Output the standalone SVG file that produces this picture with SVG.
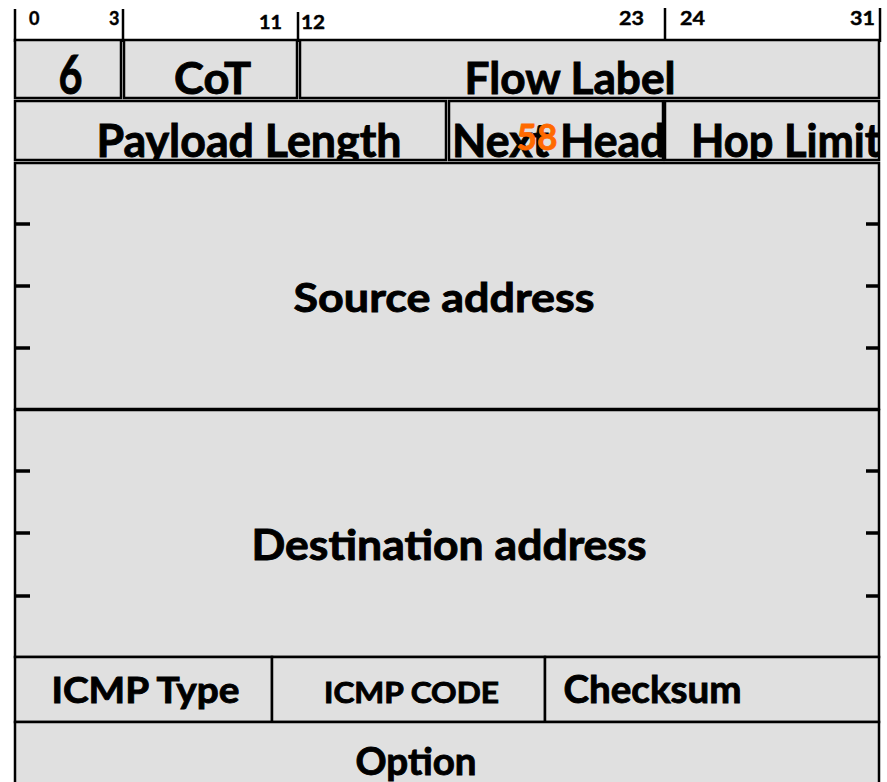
<svg xmlns="http://www.w3.org/2000/svg" width="887" height="782" viewBox="0 0 887 782">
<style>
.box{fill:#e0e0e0;stroke:#000;stroke-width:2.5}
.t{font-family:Lato,"Liberation Sans","DejaVu Sans",sans-serif;font-weight:700;fill:#000;stroke:#000;stroke-width:0.9}
.n{font-family:Lato,"Liberation Sans","DejaVu Sans",sans-serif;font-weight:700;font-size:18px;fill:#000;stroke:#000;stroke-width:0.4}
.o{font-family:Lato,"Liberation Sans","DejaVu Sans",sans-serif;font-weight:700;fill:#ff6a00;stroke:#ff6a00;stroke-width:0.8}
.tick{stroke:#000;stroke-width:2.5}
.mk{stroke:#000;stroke-width:3.5}
</style>
<defs>
<clipPath id="cNH"><rect x="449" y="101" width="214" height="59"/></clipPath>
<clipPath id="cHL"><rect x="665" y="101" width="213" height="59"/></clipPath>
<clipPath id="cPL"><rect x="15" y="101" width="431" height="59"/></clipPath>
</defs>
<rect width="887" height="782" fill="#fff"/>
<g id="bit-scale">
<line class="tick" x1="15" y1="9" x2="15" y2="42"/>
<line class="tick" x1="123" y1="9" x2="123" y2="42"/>
<line class="tick" x1="298" y1="12" x2="298" y2="42"/>
<line class="tick" x1="665" y1="8" x2="665" y2="44"/>
<line class="tick" x1="880" y1="8" x2="880" y2="42"/>
<text class="n" x="29" y="25">0</text>
<text class="n" x="109" y="25">3</text>
<text class="n" x="259" y="29" textLength="23" lengthAdjust="spacingAndGlyphs">11</text>
<text class="n" x="301" y="29" textLength="24" lengthAdjust="spacingAndGlyphs">12</text>
<text class="n" x="619" y="25" textLength="25" lengthAdjust="spacingAndGlyphs">23</text>
<text class="n" x="680" y="25" textLength="25" lengthAdjust="spacingAndGlyphs">24</text>
<text class="n" x="850" y="25" textLength="25" lengthAdjust="spacingAndGlyphs">31</text>
</g>
<g id="version">
<rect class="box" x="15" y="40" width="106" height="58"/>
<text class="t" x="70.5" y="94" font-size="54" text-anchor="middle" textLength="24" lengthAdjust="spacingAndGlyphs">6</text>
</g>
<g id="cot">
<rect class="box" x="124" y="40" width="173" height="58"/>
<text class="t" x="212.5" y="94" font-size="43" text-anchor="middle" textLength="77" lengthAdjust="spacingAndGlyphs">CoT</text>
</g>
<g id="flow-label">
<rect class="box" x="300" y="40" width="579" height="58"/>
<text class="t" x="570" y="94" font-size="43" text-anchor="middle" textLength="211" lengthAdjust="spacingAndGlyphs">Flow Label</text>
</g>
<g id="payload-length">
<rect class="box" x="15" y="101" width="431" height="59"/>
<text class="t" x="96.5" y="157" font-size="45" textLength="305" lengthAdjust="spacingAndGlyphs" clip-path="url(#cPL)">Payload Length</text>
</g>
<g id="next-header">
<rect class="box" x="449" y="101" width="214" height="59"/>
<text class="t" x="452" y="157" font-size="45" textLength="254" lengthAdjust="spacingAndGlyphs" clip-path="url(#cNH)">Next Header</text>
<text class="o" x="537" y="150" font-size="37" text-anchor="middle" textLength="41" lengthAdjust="spacingAndGlyphs">58</text>
</g>
<g id="hop-limit">
<rect class="box" x="665" y="101" width="214" height="59"/>
<text class="t" x="691" y="157" font-size="45" textLength="190" lengthAdjust="spacingAndGlyphs" clip-path="url(#cHL)">Hop Limit</text>
</g>
<g id="source-address">
<rect class="box" x="15" y="163" width="864" height="246"/>
<line class="mk" x1="15" y1="224" x2="30" y2="224"/>
<line class="mk" x1="15" y1="286" x2="30" y2="286"/>
<line class="mk" x1="15" y1="348" x2="30" y2="348"/>
<line class="mk" x1="866" y1="224" x2="879" y2="224"/>
<line class="mk" x1="866" y1="286" x2="879" y2="286"/>
<line class="mk" x1="866" y1="348" x2="879" y2="348"/>
<text class="t" x="444" y="312" font-size="41" text-anchor="middle" textLength="301" lengthAdjust="spacingAndGlyphs">Source address</text>
</g>
<g id="destination-address">
<rect class="box" x="15" y="410" width="864" height="247"/>
<line class="mk" x1="15" y1="471" x2="30" y2="471"/>
<line class="mk" x1="15" y1="533" x2="30" y2="533"/>
<line class="mk" x1="15" y1="596" x2="30" y2="596"/>
<line class="mk" x1="866" y1="471" x2="879" y2="471"/>
<line class="mk" x1="866" y1="533" x2="879" y2="533"/>
<line class="mk" x1="866" y1="596" x2="879" y2="596"/>
<text class="t" x="449" y="560" font-size="42" text-anchor="middle" textLength="395" lengthAdjust="spacingAndGlyphs">Destination address</text>
</g>
<g id="icmp-type">
<rect class="box" x="15" y="657" width="257" height="65"/>
<text class="t" x="145.5" y="703" font-size="36" text-anchor="middle" textLength="188" lengthAdjust="spacingAndGlyphs">ICMP Type</text>
</g>
<g id="icmp-code">
<rect class="box" x="272" y="657" width="273" height="65"/>
<text class="t" x="411.5" y="703" font-size="29" text-anchor="middle" textLength="175" lengthAdjust="spacingAndGlyphs">ICMP CODE</text>
</g>
<g id="checksum">
<rect class="box" x="545" y="657" width="334" height="65"/>
<text class="t" x="652.5" y="703" font-size="38" text-anchor="middle" textLength="178" lengthAdjust="spacingAndGlyphs">Checksum</text>
</g>
<g id="option">
<rect class="box" x="15" y="722" width="864" height="70"/>
<text class="t" x="416" y="775" font-size="38" text-anchor="middle" textLength="121" lengthAdjust="spacingAndGlyphs">Option</text>
</g>
</svg>
